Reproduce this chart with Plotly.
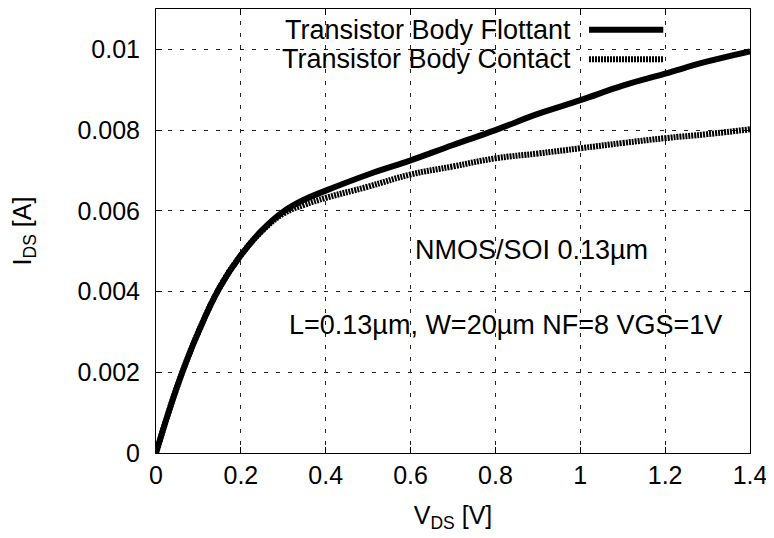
import plotly.graph_objects as go

# V_DS sweep [V]
vds = [0, 0.05, 0.1, 0.15, 0.2, 0.25, 0.3, 0.35, 0.4, 0.5, 0.6, 0.7, 0.8, 0.9, 1.0, 1.1, 1.2, 1.3, 1.4]

# I_DS [A], body floating
ids_floating = [0, 0.00165, 0.0030, 0.0041, 0.0049, 0.00552, 0.00598, 0.00628, 0.0065,
                0.0069, 0.00725, 0.00763, 0.008, 0.0084, 0.00874, 0.0091, 0.0094, 0.0097, 0.00995]

# I_DS [A], body contact
ids_contact = [0, 0.00165, 0.0030, 0.0041, 0.0049, 0.0055, 0.00593, 0.00615, 0.00632,
               0.0066, 0.0069, 0.0071, 0.0073, 0.00742, 0.00755, 0.00768, 0.0078, 0.0079, 0.00802]

legend_names = ["Transistor Body Flottant", "Transistor Body Contact"]

x_ticks = [0, 0.2, 0.4, 0.6, 0.8, 1.0, 1.2, 1.4]
x_ticktext = ["0", "0.2", "0.4", "0.6", "0.8", "1", "1.2", "1.4"]
y_ticks = [0, 0.002, 0.004, 0.006, 0.008, 0.01]
y_ticktext = ["0", "0.002", "0.004", "0.006", "0.008", "0.01"]

FONT = "Liberation Sans, Arial, sans-serif"
CONTACT_DASH = "2px,1px"

fig = go.Figure()
fig.add_trace(go.Scatter(x=vds, y=ids_contact, mode="lines", name=legend_names[1],
                         line=dict(color="black", width=6, dash=CONTACT_DASH,
                                   shape="spline", smoothing=1.2)))
fig.add_trace(go.Scatter(x=vds, y=ids_floating, mode="lines", name=legend_names[0],
                         line=dict(color="black", width=6, shape="spline", smoothing=1.2)))

axis_common = dict(
    showline=True, linecolor="black", linewidth=1, mirror="ticks",
    ticks="inside", ticklen=6, tickcolor="black",
    showgrid=True, gridcolor="#222", gridwidth=1, griddash="4px,8px",
    zeroline=False, tickfont=dict(size=25, color="black"),
)

fig.update_xaxes(range=[0, 1.4], tickvals=x_ticks, ticktext=x_ticktext, ticklabelstandoff=0,
                 title=dict(text="V<sub>DS</sub> [V]", font=dict(size=25), standoff=18),
                 **axis_common)
fig.update_yaxes(range=[0, 0.011], tickvals=y_ticks, ticktext=y_ticktext, ticklabelstandoff=10,
                 title=dict(text="I<sub>DS</sub> [A]", font=dict(size=25), standoff=38),
                 **axis_common)

# legend drawn gnuplot-style: text on the left, sample on the right
legend_rows = [(0.953, None), (0.887, CONTACT_DASH)]
for name, (yp, dash) in zip(legend_names, legend_rows):
    fig.add_annotation(text=name, xref="paper", yref="paper", x=0.702, y=yp,
                       xanchor="right", yanchor="middle", showarrow=False,
                       font=dict(size=27, color="black"))
    fig.add_shape(type="line", xref="paper", yref="paper", x0=0.729, x1=0.854, y0=yp, y1=yp,
                  line=dict(color="black", width=6, dash=dash))

fig.add_annotation(text="NMOS/SOI 0.13µm", x=0.885, y=0.00502, showarrow=False,
                   font=dict(size=27, color="black"))
fig.add_annotation(text="L=0.13µm, W=20µm NF=8 VGS=1V", x=0.824, y=0.00317, showarrow=False,
                   font=dict(size=27, color="black"))

fig.update_layout(
    width=774, height=538,
    margin=dict(l=148, r=32, t=1, b=93),
    paper_bgcolor="white", plot_bgcolor="white",
    font=dict(family=FONT, color="black"),
    showlegend=False,
)

fig.write_html("out.html")
